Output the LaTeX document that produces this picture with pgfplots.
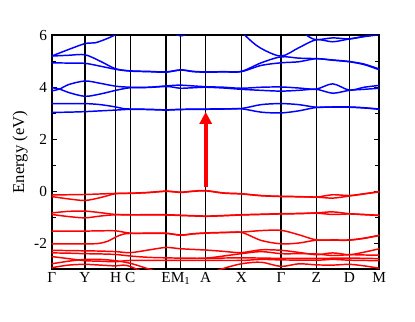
\documentclass[border=0pt]{standalone}
\usepackage{fontspec}
\setmainfont{Liberation Serif}
\usepackage{pgfplots}
\pgfplotsset{compat=1.18}
\usetikzlibrary{arrows.meta}

\pgfplotsset{
  cb/.style={blue, line width=1.1pt, smooth, tension=0.5},
  vb/.style={red, line width=1.1pt, smooth, tension=0.5},
}

\begin{document}
\begin{tikzpicture}
\begin{axis}[
  scale only axis, width=245.7pt, height=175.3pt,
  xmin=0, xmax=327.6, ymin=-3, ymax=6,
  axis line style={line width=1.3pt},
  xtick={0,33.3,64,78.6,114.3,129,154,189.6,229.3,264.6,297.6,327.6},
  xticklabels={Γ,Y,H,C,E,M\textsubscript{1},A,X,Γ,Z,D,M},
  xmajorgrids, major x grid style={black, line width=0.8pt},
  major x tick style={draw=none},
  ytick={-2,0,2,4,6}, minor ytick={-3,-1,1,3,5},
  ytick pos=both, yticklabel pos=left,
  tick align=inside, major tick length=4pt, minor tick length=3.5pt,
  tick style={black, line width=0.8pt},
  ylabel={Energy (eV)},
  ylabel style={font=\fontsize{12.5}{14}\selectfont, yshift=-2pt},
  tick label style={font=\fontsize{11.5}{13}\selectfont},
  xticklabel style={yshift=1pt},
  /pgf/number format/assume math mode=true,
]
% conduction bands
\addplot[cb] coordinates {(0,3.03) (16.7,3.04) (33.3,3.06) (48.7,3.09) (64,3.12) (78.6,3.15) (96.5,3.14) (114.3,3.12) (129,3.14) (154,3.15) (171.8,3.16) (189.6,3.17) (209.5,3.04) (229.3,3.01) (247,3.09) (264.6,3.22) (281,3.23) (297.6,3.23) (312.6,3.2) (327.6,3.15)};
\addplot[cb] coordinates {(0,3.37) (16.7,3.37) (33.3,3.37) (48.7,3.33) (64,3.24) (71.3,3.18) (78.6,3.16) (96.5,3.15) (114.3,3.13) (129,3.15) (154,3.16) (171.8,3.17) (189.6,3.18) (209.5,3.33) (229.3,3.37) (247,3.33) (264.6,3.23) (281,3.24) (297.6,3.24) (312.6,3.21) (327.6,3.16)};
\addplot[cb] coordinates {(0,3.98) (8,3.93) (16.7,3.8) (33.3,3.65) (48.7,3.74) (64,3.88) (78.6,3.98) (96.5,3.99) (114.3,4.03) (121.7,4.0) (129,3.96) (141.5,3.98) (154,4.0) (171.8,3.97) (189.6,3.92) (209.5,3.88) (229.3,3.85) (247,3.88) (264.6,3.92) (281,3.77) (297.6,3.88) (312.6,3.92) (327.6,3.96)};
\addplot[cb] coordinates {(0,3.86) (8,3.93) (16.7,4.1) (33.3,4.24) (48.7,4.15) (64,4.04) (78.6,4.0) (96.5,4.0) (114.3,4.05) (121.7,4.07) (129,4.08) (141.5,4.05) (154,4.02) (171.8,4.0) (189.6,3.96) (209.5,4.0) (229.3,4.01) (247,3.97) (264.6,3.93) (281,4.13) (297.6,3.89) (312.6,4.0) (327.6,4.07)};
\addplot[cb] coordinates {(0,4.94) (16.7,4.93) (33.3,4.92) (48.7,4.81) (64,4.69) (78.6,4.62) (96.5,4.6) (114.3,4.58) (129,4.66) (141.5,4.6) (154,4.58) (171.8,4.59) (189.6,4.6) (209.5,4.84) (229.3,4.94) (247,4.98) (264.6,5.1) (281,5.04) (297.6,4.98) (312.6,4.87) (327.6,4.67)};
\addplot[cb] coordinates {(0,5.2) (16.7,5.23) (33.3,5.25) (48.7,5.0) (64,4.71) (78.6,4.63) (96.5,4.61) (114.3,4.59) (129,4.67) (141.5,4.61) (154,4.59) (171.8,4.6) (189.6,4.61) (209.5,4.94) (229.3,5.17) (247,5.12) (264.6,5.1) (281,5.05) (297.6,4.99) (312.6,4.89) (327.6,4.7)};
\addplot[cb] coordinates {(0,5.2) (16.7,5.45) (33.3,5.68) (43.3,5.71) (53.3,5.84) (64,6.03) (78.6,6.4) (114.3,6.8) (154,6.8) (180,6.6) (193.3,6.0) (208.3,5.52) (229.3,5.2) (247,5.52) (264.6,5.83) (281,5.75) (297.6,5.86) (312.6,5.95) (327.6,6.02)};
\addplot[cb] coordinates {(100,6.5) (114.3,6.2) (129,5.98) (141.5,6.15) (154,6.35) (189.6,6.6) (229.3,6.6) (247,6.3) (255,6.0) (264.6,5.83) (281,5.9) (297.6,5.86) (312.6,5.96) (327.6,6.05)};
% valence bands
\addplot[vb] coordinates {(0,-0.15) (16.7,-0.14) (33.3,-0.13) (48.7,-0.11) (64,-0.09) (78.6,-0.08) (96.5,-0.05) (114.3,0.0) (129,-0.04) (141.5,0.0) (154,0.02) (171.8,-0.07) (189.6,-0.1) (209.5,-0.17) (229.3,-0.2) (247,-0.21) (264.6,-0.23) (281,-0.14) (297.6,-0.17) (312.6,-0.1) (327.6,-0.02)};
\addplot[vb] coordinates {(0,-0.21) (16.7,-0.3) (33.3,-0.36) (48.7,-0.25) (64,-0.1) (78.6,-0.09) (96.5,-0.06) (114.3,-0.01) (129,-0.05) (141.5,-0.01) (154,0.01) (171.8,-0.08) (189.6,-0.11) (209.5,-0.18) (229.3,-0.21) (247,-0.22) (264.6,-0.23) (281,-0.27) (297.6,-0.19) (312.6,-0.11) (327.6,-0.03)};
\addplot[vb] coordinates {(0,-0.84) (16.7,-0.78) (33.3,-0.77) (48.7,-0.83) (64,-0.9) (78.6,-0.91) (114.3,-0.91) (129,-0.93) (154,-0.96) (171.8,-0.94) (189.6,-0.91) (209.5,-0.89) (229.3,-0.87) (247,-0.86) (264.6,-0.84) (281,-0.8) (297.6,-0.87) (312.6,-0.9) (327.6,-0.93)};
\addplot[vb] coordinates {(0,-0.9) (16.7,-0.98) (33.3,-1.03) (48.7,-0.96) (64,-0.91) (78.6,-0.92) (114.3,-0.92) (129,-0.94) (154,-0.97) (171.8,-0.95) (189.6,-0.92) (209.5,-0.9) (229.3,-0.88) (247,-0.87) (264.6,-0.85) (281,-0.9) (297.6,-0.88) (312.6,-0.91) (327.6,-0.94)};
\addplot[vb] coordinates {(0,-1.54) (16.7,-1.54) (33.3,-1.54) (48.7,-1.53) (64,-1.53) (78.6,-1.62) (96.5,-1.62) (114.3,-1.62) (129,-1.69) (141.5,-1.64) (154,-1.61) (171.8,-1.59) (189.6,-1.58) (209.5,-1.52) (229.3,-1.51) (247,-1.68) (264.6,-1.88) (281,-1.88) (297.6,-1.88) (312.6,-1.81) (327.6,-1.7)};
\addplot[vb] coordinates {(0,-2.03) (16.7,-2.03) (33.3,-2.03) (46,-2.02) (56,-1.93) (64,-1.77) (71.3,-1.66) (78.6,-1.63) (96.5,-1.63) (114.3,-1.63) (129,-1.7) (141.5,-1.65) (154,-1.62) (171.8,-1.6) (189.6,-1.59) (209.5,-1.9) (229.3,-2.03) (247,-2.0) (264.6,-1.89) (281,-1.89) (297.6,-1.89) (312.6,-1.82) (327.6,-1.71)};
\addplot[vb] coordinates {(0,-2.28) (16.7,-2.29) (33.3,-2.3) (48.7,-2.31) (64,-2.33) (78.6,-2.37) (96.5,-2.27) (114.3,-2.17) (129,-2.22) (154,-2.27) (171.8,-2.32) (189.6,-2.37) (209.5,-2.26) (229.3,-2.28) (247,-2.36) (264.6,-2.45) (281,-2.38) (297.6,-2.45) (312.6,-2.35) (327.6,-2.22)};
\addplot[vb] coordinates {(0,-2.38) (16.7,-2.39) (33.3,-2.41) (48.7,-2.42) (64,-2.44) (78.6,-2.5) (96.5,-2.55) (114.3,-2.57) (129,-2.58) (154,-2.58) (171.8,-2.5) (189.6,-2.41) (209.5,-2.33) (229.3,-2.41) (247,-2.41) (264.6,-2.42) (281,-2.48) (297.6,-2.45) (312.6,-2.46) (327.6,-2.47)};
\addplot[vb] coordinates {(0,-2.52) (16.7,-2.6) (33.3,-2.68) (48.7,-2.7) (64,-2.72) (78.6,-2.67) (114.3,-2.67) (154,-2.67) (189.6,-2.67) (209.5,-2.63) (229.3,-2.65) (264.6,-2.66) (281,-2.63) (297.6,-2.66) (327.6,-2.68)};
\addplot[vb] coordinates {(154,-2.59) (189.6,-2.57) (229.3,-2.59) (264.6,-2.59) (297.6,-2.58) (327.6,-2.6)};
\addplot[vb] coordinates {(0,-2.8) (16.7,-2.7) (33.3,-2.63) (48.7,-2.63) (64,-2.68) (78.6,-2.78) (93,-2.95) (105,-3.1) (114.3,-3.2)};
\addplot[vb] coordinates {(0,-2.95) (16.7,-2.85) (33.3,-2.82) (48.7,-2.85) (64,-2.88) (71.3,-2.85) (78.6,-2.9) (90,-3.1)};
\addplot[vb] coordinates {(150,-3.3) (170,-3.0) (189.6,-2.8) (209.5,-2.74) (229.3,-2.9) (247,-2.8) (264.6,-2.84) (281,-2.85) (297.6,-2.82) (312.6,-2.88) (327.6,-2.97)};
% gap arrow at A
\draw[red, line width=3pt, -{Triangle[width=9pt,length=9pt]}] (axis cs:154,0.15) -- (axis cs:154,3.05);
\coordinate (bl) at (rel axis cs:-0.1578,-0.2225);
\coordinate (tr) at (rel axis cs:1.109,1.151);
\end{axis}
\pgfresetboundingbox
\useasboundingbox (bl) rectangle (tr);
\end{tikzpicture}
\end{document}
